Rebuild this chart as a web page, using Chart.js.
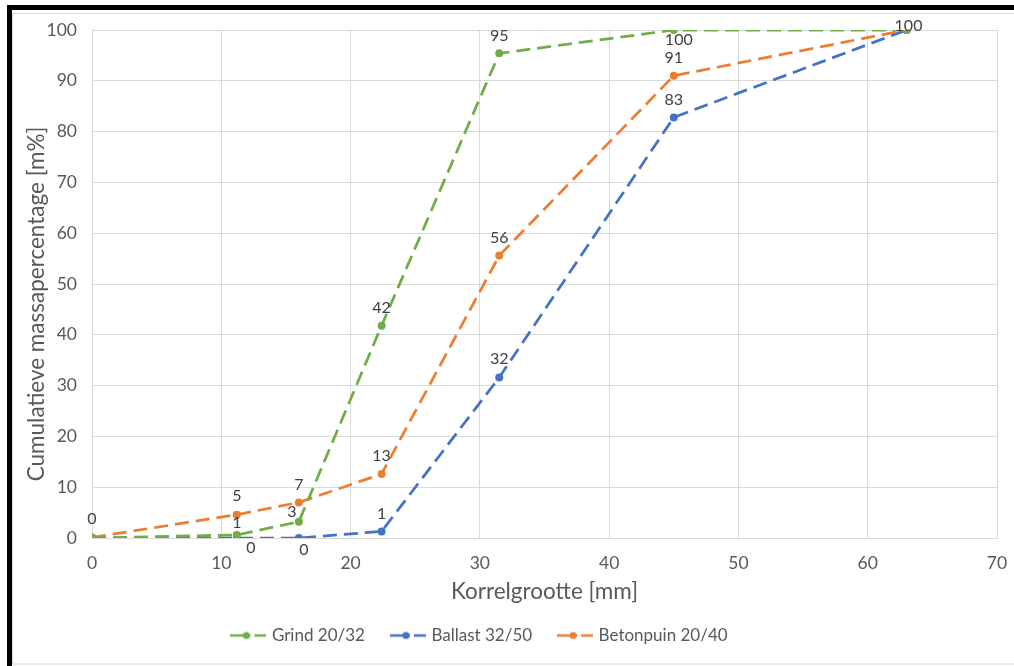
<!DOCTYPE html>
<html>
<head>
<meta charset="utf-8">
<script src="https://cdn.jsdelivr.net/npm/chart.js@4"></script>
<style>
  html, body { margin: 0; padding: 0; background: #fff; }
  #wrap { width: 1014px; height: 666px; }
</style>
</head>
<body>
<div id="wrap"><canvas id="myChart" width="1014" height="666"></canvas></div>
<script>
// sieve sizes (mm) and cumulative passing (m%)
const sieveSizes = [0, 11.2, 16, 22.4, 31.5, 45, 63];
const grind = [0, 0.6, 3.2, 41.8, 95.4, 100, 100];
const ballast = [0, 0, 0, 1.3, 31.6, 82.8, 100];
const betonpuin = [0.1, 4.6, 7.0, 12.6, 55.6, 91.0, 100];
const seriesNames = ['Grind 20/32', 'Ballast 32/50', 'Betonpuin 20/40'];
const xTicks = [0, 10, 20, 30, 40, 50, 60, 70];
const yTicks = [0, 10, 20, 30, 40, 50, 60, 70, 80, 90, 100];
const xTitle = 'Korrelgrootte [mm]';
const yTitle = 'Cumulatieve massapercentage [m%]';

const colors = ['#70AD47', '#4472C4', '#ED7D31'];

// where each data label sits relative to its point (null = no label)
const labelPlacement = [
    [null, [0, -12], [-7, -10], [0, -18], [0, -18], [5, 10], null],
    [null, [14, 10], [5, 12], [0, -18], [0, -19], [0, -18], null],
    [[0, -19], [0, -19], [0, -18], [0, -18], [0, -18], [0, -18], [2, -4]]
];

function toPoints(values) {
    return sieveSizes.map((x, i) => ({ x: x, y: values[i] }));
}

function legendIcon(color) {
    const c = document.createElement('canvas');
    c.width = 36;
    c.height = 10;
    const g = c.getContext('2d');
    g.strokeStyle = color;
    g.lineWidth = 2.5;
    g.setLineDash([20, 4]);
    g.beginPath();
    g.moveTo(0, 5);
    g.lineTo(36, 5);
    g.stroke();
    g.fillStyle = color;
    g.beginPath();
    g.arc(16, 5, 3.5, 0, Math.PI * 2);
    g.fill();
    return c;
}
const icons = colors.map(legendIcon);

const allSeries = [grind, ballast, betonpuin];

const datasets = allSeries.map((vals, i) => ({
    label: seriesNames[i],
    data: toPoints(vals),
    showLine: true,
    borderColor: colors[i],
    backgroundColor: colors[i],
    borderWidth: 2.75,
    borderDash: [14, 7],
    pointRadius: 4,
    pointBackgroundColor: colors[i],
    pointBorderWidth: 0,
    fill: false
}));

// frame around the chart, like the exported picture
const framePlugin = {
    id: 'frame',
    beforeDraw(chart) {
        const c = chart.ctx;
        c.save();
        c.fillStyle = '#fff';
        c.fillRect(0, 0, chart.width, chart.height);
        c.strokeStyle = '#d9d9d9';
        c.lineWidth = 1;
        c.strokeRect(12.5, 13.5, 1010, 650.5);
        c.fillStyle = '#000';
        c.fillRect(7, 5, chart.width - 7, 5);
        c.fillRect(7, 5, 5, chart.height - 5);
        c.restore();
    },
    afterLayout(chart) {
        // legend in the original sits a bit left of centre
        if (chart.legend) {
            chart.legend.left -= 25;
            chart.legend.right -= 25;
        }
    }
};

// axis titles, placed where the original has them
const titlePlugin = {
    id: 'axisTitles',
    afterDraw(chart) {
        const c = chart.ctx;
        const area = chart.chartArea;
        c.save();
        c.font = '22.5px Lato';
        c.fillStyle = '#595959';
        c.textAlign = 'center';
        c.textBaseline = 'middle';
        c.fillText(xTitle, (area.left + area.right) / 2, 592);
        c.translate(37, 304);
        c.rotate(-Math.PI / 2);
        c.fillText(yTitle, 0, 0);
        c.restore();
    }
};

// value labels next to the points
const labelPlugin = {
    id: 'pointLabels',
    afterDatasetsDraw(chart) {
        const c = chart.ctx;
        c.save();
        c.font = '16px Lato';
        c.fillStyle = '#404040';
        c.textAlign = 'center';
        c.textBaseline = 'middle';
        chart.data.datasets.forEach((ds, di) => {
            const meta = chart.getDatasetMeta(di);
            meta.data.forEach((pt, pi) => {
                const off = labelPlacement[di][pi];
                if (!off) return;
                const v = allSeries[di][pi];
                c.fillText(Math.round(v).toString(), pt.x + off[0], pt.y + off[1]);
            });
        });
        c.restore();
    }
};

const ctx = document.getElementById('myChart').getContext('2d');
const myChart = new Chart(ctx, {
    type: 'scatter',
    data: { datasets: datasets },
    options: {
        responsive: false,
        animation: false,
        layout: { padding: { left: 14, right: 17, top: 30, bottom: 12 } },
        plugins: {
            tooltip: { enabled: false },
            legend: {
                position: 'bottom',
                labels: {
                    usePointStyle: true,
                    pointStyleWidth: 30,
                    padding: 28,
                    color: '#595959',
                    font: { family: 'Lato', size: 17 },
                    generateLabels(chart) {
                        return chart.data.datasets.map((ds, i) => ({
                            text: ds.label,
                            fillStyle: colors[i],
                            strokeStyle: colors[i],
                            lineWidth: 0,
                            pointStyle: icons[i],
                            fontColor: '#595959',
                            datasetIndex: i,
                            hidden: false
                        }));
                    }
                }
            }
        },
        scales: {
            x: {
                type: 'linear',
                min: 0,
                max: 70,
                afterBuildTicks(scale) { scale.ticks = xTicks.map(v => ({ value: v })); },
                afterFit(scale) {
                    scale.height = 61;
                    scale.paddingLeft = 0;
                    scale.paddingRight = 0;
                },
                grid: { color: '#d9d9d9', drawTicks: false },
                border: { color: '#d9d9d9' },
                ticks: { color: '#595959', font: { family: 'Lato', size: 17.5 }, padding: 15 }
            },
            y: {
                min: 0,
                max: 100,
                afterBuildTicks(scale) { scale.ticks = yTicks.map(v => ({ value: v })); },
                afterFit(scale) {
                    scale.width = 78;
                    scale.paddingTop = 0;
                    scale.paddingBottom = 0;
                },
                grid: { color: '#d9d9d9', drawTicks: false },
                border: { color: '#d9d9d9' },
                ticks: { color: '#595959', font: { family: 'Lato', size: 17.5 }, padding: 15 }
            }
        }
    },
    plugins: [framePlugin, labelPlugin, titlePlugin]
});
</script>
</body>
</html>
